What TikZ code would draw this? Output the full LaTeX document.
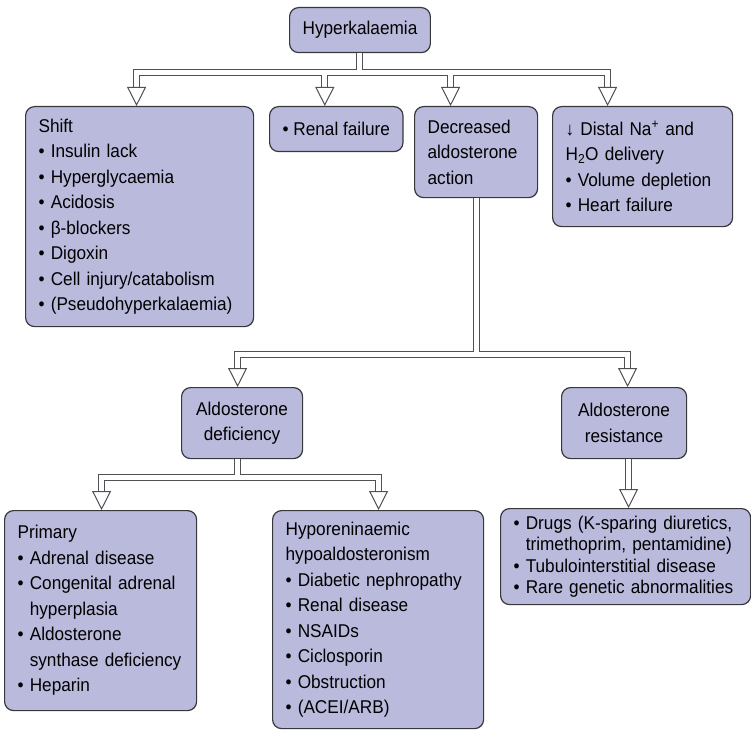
\documentclass[tikz,border=0pt]{standalone}
\usepackage{fontspec}
\setmainfont{Liberation Sans}[FakeStretch=0.93]
\usetikzlibrary{
  arrows.meta,
}
\definecolor{boxfill}{RGB}{186,186,221}
\definecolor{boxline}{RGB}{55,55,60}
\definecolor{pipeline}{RGB}{80,80,85}
\newcommand{\bul}{\textbullet\ }
\newcommand{\ind}{\hphantom{\textbullet\ }}
\tikzset{
  cause/.style={
    rectangle,
    rounded corners=9pt,
    draw=boxline,
    line width=1.2pt,
    fill=boxfill,
    anchor=north west,
    inner xsep=13pt,
    inner ysep=0pt,
    font=\fontsize{18.5}{25.5}\selectfont
  },
  lbox/.style={
    cause,
    align=left
  },
  cbox/.style={
    cause,
    align=center
  },
  pipe/.style={
    draw=pipeline,
    line width=1pt,
    double=white,
    double distance=5pt
  },
  head/.style={
    draw=pipeline,
    line width=1pt,
    -{Triangle[open, fill=white, length=19pt, width=19pt]}
  },
}

\begin{document}
\begin{tikzpicture}[x=1pt, y=1pt]

  \useasboundingbox (0,0) rectangle (751,-730);

  \node[cbox, minimum width=136pt, minimum height=45pt] (hyper) at (289,-7) {Hyperkalaemia};

  \node[lbox, text width=202pt, minimum height=220pt] (shift) at (25,-106)
    {Shift\\ \bul Insulin lack\\ \bul Hyperglycaemia\\ \bul Acidosis\\
     \bul β-blockers\\ \bul Digoxin\\ \bul Cell injury/catabolism\\
     \bul (Pseudohyperkalaemia)};
  \node[cbox, minimum width=129pt, minimum height=45pt] (renal) at (269,-106) {\bul Renal failure};
  \node[lbox, text width=97pt, minimum height=91pt] (decr) at (414,-106)
    {Decreased\\ aldosterone\\ action};
  \node[lbox, text width=154pt, minimum height=120pt] (distal) at (552,-106)
    {↓ Distal Na\textsuperscript{+} and\\ H\textsubscript{2}O delivery\\
     \bul Volume depletion\\ \bul Heart failure};

  \node[cbox, minimum width=121pt, minimum height=71pt] (defic) at (181,-387)
    {Aldosterone\\ deficiency};
  \node[cbox, minimum width=125pt, minimum height=71pt] (resist) at (561,-387)
    {Aldosterone\\ resistance};

  \node[lbox, text width=166pt, minimum height=200pt] (primary) at (4,-510)
    {Primary\\ \bul Adrenal disease\\ \bul Congenital adrenal\\ \ind hyperplasia\\
     \bul Aldosterone\\ \ind synthase deficiency\\ \bul Heparin};
  \node[lbox, text width=185pt, minimum height=218pt] (hypo) at (272,-510)
    {Hyporeninaemic\\ hypoaldosteronism\\ \bul Diabetic nephropathy\\
     \bul Renal disease\\ \bul NSAIDs\\ \bul Ciclosporin\\ \bul Obstruction\\
     \bul (ACEI/ARB)};
  \node[lbox, text width=224pt, minimum height=96pt, font=\fontsize{18.5}{21.5}\selectfont] (drugs) at (500,-508)
    {\bul Drugs (K-sparing diuretics,\\ \ind trimethoprim, pentamidine)\\
     \bul Tubulointerstitial disease\\ \bul Rare genetic abnormalities};

  % hollow pipes
  \draw[pipe] (hyper.south) -- ++(0,-19.5) coordinate (hbar)
    -| ([xshift=-3pt, yshift=19pt]shift.north)
    (hbar) -| ([xshift=-11.5pt, yshift=19pt]renal.north)
    (hbar) -| ([xshift=-25.5pt, yshift=19pt]decr.north)
    (hbar) -| ([xshift=-35pt, yshift=19pt]distal.north);
  \draw[pipe] (decr.south) -- ++(0,-156.5) coordinate (dbar)
    -| ([xshift=-4.5pt, yshift=19pt]defic.north)
    (dbar) -| ([xshift=3.5pt, yshift=19pt]resist.north);
  \draw[pipe] ([xshift=-4.5pt]defic.south) -- ++(0,-18.5) coordinate (fbar)
    -| ([xshift=1pt, yshift=19pt]primary.north)
    (fbar) -| ([xshift=0.5pt, yshift=19pt]hypo.north);
  \draw[pipe] ([xshift=4.5pt]resist.south) -- ([xshift=3pt, yshift=19pt]drugs.north);

  % arrow heads
  \draw[head] ([xshift=-3pt, yshift=19pt]shift.north) -- ([xshift=-3pt]shift.north);
  \draw[head] ([xshift=-11.5pt, yshift=19pt]renal.north) -- ([xshift=-11.5pt]renal.north);
  \draw[head] ([xshift=-25.5pt, yshift=19pt]decr.north) -- ([xshift=-25.5pt]decr.north);
  \draw[head] ([xshift=-35pt, yshift=19pt]distal.north) -- ([xshift=-35pt]distal.north);
  \draw[head] ([xshift=-4.5pt, yshift=19pt]defic.north) -- ([xshift=-4.5pt]defic.north);
  \draw[head] ([xshift=3.5pt, yshift=19pt]resist.north) -- ([xshift=3.5pt]resist.north);
  \draw[head] ([xshift=1pt, yshift=19pt]primary.north) -- ([xshift=1pt]primary.north);
  \draw[head] ([xshift=0.5pt, yshift=19pt]hypo.north) -- ([xshift=0.5pt]hypo.north);
  \draw[head] ([xshift=3pt, yshift=19pt]drugs.north) -- ([xshift=3pt]drugs.north);

\end{tikzpicture}
\end{document}
